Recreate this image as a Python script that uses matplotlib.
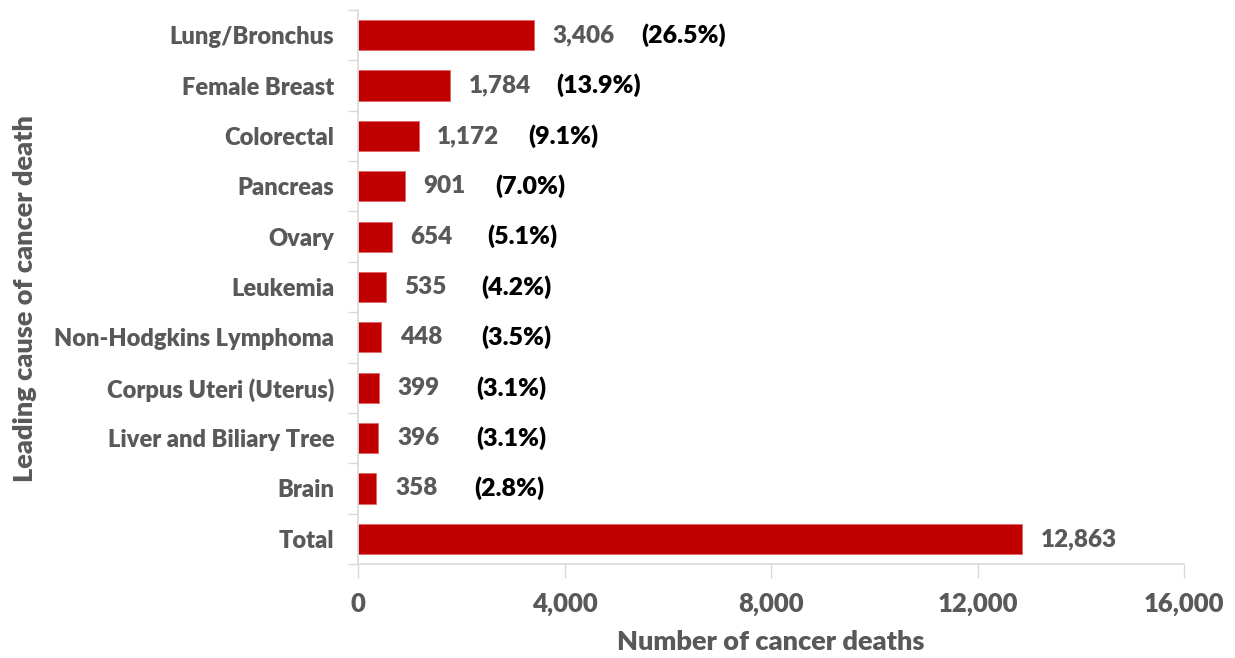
import matplotlib
matplotlib.use("Agg")
import matplotlib.pyplot as plt
from matplotlib.ticker import FuncFormatter

categories = ["Lung/Bronchus", "Female Breast", "Colorectal", "Pancreas", "Ovary",
              "Leukemia", "Non-Hodgkins Lymphoma", "Corpus Uteri (Uterus)",
              "Liver and Biliary Tree", "Brain", "Total"]
deaths = [3406, 1784, 1172, 901, 654, 535, 448, 399, 396, 358, 12863]
percents = ["(26.5%)", "(13.9%)", "(9.1%)", "(7.0%)", "(5.1%)", "(4.2%)",
            "(3.5%)", "(3.1%)", "(3.1%)", "(2.8%)", None]
pct_x = [5482, 3835, 3293, 2654, 2499, 2383, 2383, 2286, 2286, 2247, None]
xticks = [0, 4000, 8000, 12000, 16000]

plt.rcParams['font.family'] = ['Lato', 'DejaVu Sans']
gray = "#595959"
red = "#C00000"
W = 'heavy'

fig = plt.figure(figsize=(12.35, 6.58), dpi=100)
ax = fig.add_axes([358/1235, 1 - 564/658, (1184-358)/1235, (564-10)/658])

n = len(categories)
ypos = list(range(n))
ax.barh(ypos, deaths, height=0.6, color=red, edgecolor="#E06666", linewidth=0.6)
ax.set_ylim(n - 0.5, -0.5)
ax.set_xlim(0, 16000)
ax.set_yticks(ypos)
ax.set_yticklabels(categories, fontsize=17, fontweight=W, color=gray)
ax.set_xticks(xticks)
ax.xaxis.set_major_formatter(FuncFormatter(lambda v, p: f"{int(v):,}"))
for lbl in ax.get_xticklabels():
    lbl.set_fontsize(18.5)
    lbl.set_fontweight(W)
    lbl.set_color(gray)

ax.set_yticks([i - 0.5 for i in range(n + 1)], minor=True)
ax.tick_params(axis='y', which='major', length=0, pad=17)
ax.tick_params(axis='y', which='minor', length=7, color="#D9D9D9", width=1)
ax.tick_params(axis='x', which='major', length=10, color="#D9D9D9", width=1, pad=10)

for s in ['top', 'right']:
    ax.spines[s].set_visible(False)
for s in ['left', 'bottom']:
    ax.spines[s].set_color("#D9D9D9")
    ax.spines[s].set_linewidth(1.2)

for i, v in enumerate(deaths):
    ax.text(v + 360, i, f"{v:,}", va='center', ha='left', fontsize=17.5,
            fontweight=W, color=gray)
    if percents[i] is not None:
        ax.text(pct_x[i], i, percents[i], va='center', ha='left', fontsize=18,
                fontweight=W, color='black')

ax.set_xlabel("Number of cancer deaths", fontsize=19.5, fontweight=W, color=gray, labelpad=10)
ax.set_ylabel("Leading cause of cancer death", fontsize=19.5, fontweight=W, color=gray)
ax.yaxis.set_label_coords(-(358-37)/826, (564-299)/554)

fig.savefig("out.png", dpi=100)
